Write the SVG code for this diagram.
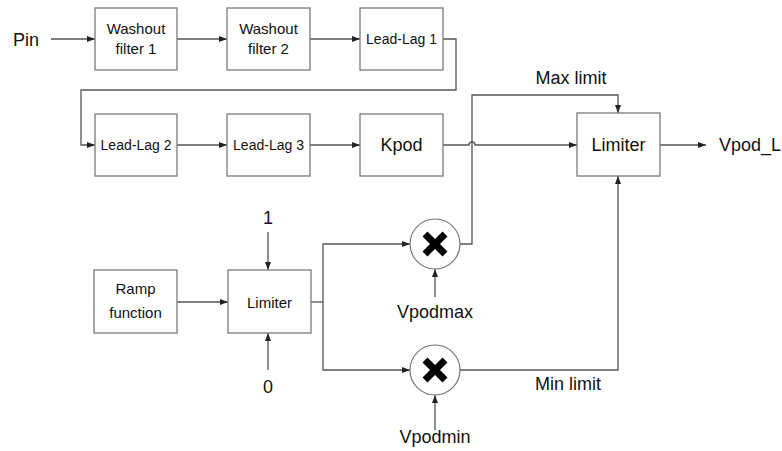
<svg xmlns="http://www.w3.org/2000/svg" width="782" height="451" viewBox="0 0 782 451">
<defs>
<marker id="ah" viewBox="0 0 8 6" refX="8" refY="3" markerWidth="8" markerHeight="6" markerUnits="userSpaceOnUse" orient="auto">
<path d="M0,0 L8,3 L0,6 Z" fill="#222"/>
</marker>
<style>
.box{fill:#fff;stroke:#7a7a7a;stroke-width:1.3}
.c{fill:none;stroke:#555;stroke-width:1.3}
.a{marker-end:url(#ah)}
.t{font-family:"Liberation Sans",Arial,sans-serif;fill:#111;text-anchor:middle}
.s{font-size:15px}
.m{font-size:14px}
.l{font-size:18px}
.x{stroke:#000;stroke-width:7;stroke-linecap:butt}
</style>
</defs>
<rect width="782" height="451" fill="#fff"/>

<g id="connectors">
<path class="c a" d="M51,39 H95"/>
<path class="c a" d="M177,39 H227"/>
<path class="c a" d="M310,39 H360"/>
<path class="c a" d="M443,39 H456 V90 H81 V145 H95"/>
<path class="c a" d="M177,145 H227"/>
<path class="c a" d="M310,145 H360"/>
<path class="c a" d="M443,145 H469 A3,3 0 0 1 475,145 H577"/>
<path class="c a" d="M660,145 H706"/>
<path class="c a" d="M177,302 H228"/>
<path class="c a" d="M268,232 V270"/>
<path class="c a" d="M268,370 V333"/>
<path class="c" d="M311,302 H323"/>
<path class="c a" d="M323,302 V244 H410"/>
<path class="c a" d="M323,302 V370 H410"/>
<path class="c a" d="M460,244 H472 V95 H618 V113"/>
<path class="c a" d="M460,370 H618 V176"/>
<path class="c a" d="M435,297 V269"/>
<path class="c a" d="M435,430 V395"/>
</g>

<text class="t l" x="26" y="46">Pin</text>

<g id="washout1"><rect class="box" x="95" y="8" width="82" height="62"/><text class="t s" x="136" y="34">Washout</text><text class="t s" x="136" y="54">filter 1</text></g>
<g id="washout2"><rect class="box" x="227" y="8" width="83" height="62"/><text class="t s" x="268.5" y="34">Washout</text><text class="t s" x="268.5" y="54">filter 2</text></g>
<g id="leadlag1"><rect class="box" x="360" y="8" width="83" height="62"/><text class="t m" x="401.5" y="44">Lead-Lag 1</text></g>
<g id="leadlag2"><rect class="box" x="95" y="114" width="82" height="62"/><text class="t m" x="136" y="150">Lead-Lag 2</text></g>
<g id="leadlag3"><rect class="box" x="227" y="114" width="83" height="62"/><text class="t m" x="268.5" y="150">Lead-Lag 3</text></g>
<g id="kpod"><rect class="box" x="360" y="114" width="83" height="62"/><text class="t l" x="401.5" y="151">Kpod</text></g>
<g id="limiter-main"><rect class="box" x="577" y="113" width="83" height="63"/><text class="t l" x="618.5" y="151">Limiter</text></g>
<text class="t l" x="571" y="84">Max limit</text>
<text class="t l" x="568" y="390">Min limit</text>
<text class="t l" x="719" y="151" style="text-anchor:start">Vpod_L</text>

<g id="ramp"><rect class="box" x="94" y="270" width="83" height="63"/><text class="t s" x="135.5" y="294">Ramp</text><text class="t s" x="135.5" y="318">function</text></g>
<g id="limiter-ramp"><rect class="box" x="228" y="270" width="83" height="63"/><text class="t s" x="269.5" y="308">Limiter</text></g>
<text class="t l" x="268" y="224">1</text>
<text class="t l" x="268" y="393">0</text>

<g id="mult-max"><circle cx="435" cy="244" r="25" fill="#fff" stroke="#777" stroke-width="1.2"/><path class="x" d="M425,234 L445,254 M445,234 L425,254"/></g>
<text class="t l" x="435" y="318">Vpodmax</text>
<g id="mult-min"><circle cx="435" cy="370" r="25" fill="#fff" stroke="#777" stroke-width="1.2"/><path class="x" d="M425,360 L445,380 M445,360 L425,380"/></g>
<text class="t l" x="435" y="443">Vpodmin</text>
</svg>
